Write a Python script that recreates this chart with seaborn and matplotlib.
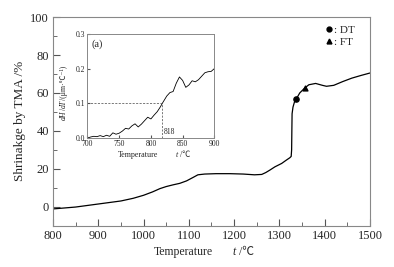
import numpy as np
import pandas as pd
import seaborn as sns
import matplotlib.pyplot as plt
from matplotlib.lines import Line2D
from matplotlib.transforms import IdentityTransform

# main TMA shrinkage curve
temp_main = [800, 850, 900, 950, 977, 1000, 1020, 1036, 1050, 1065, 1080, 1095,
             1110, 1120, 1135, 1160, 1191, 1220, 1245, 1261, 1270, 1279, 1290,
             1305, 1315, 1323, 1326, 1327, 1327.5, 1328, 1330, 1333, 1337, 1345,
             1356, 1365, 1380, 1395, 1404, 1420, 1440, 1460, 1480, 1500]
shrink_main = [-1.2, -0.2, 1.4, 3.0, 4.4, 6.0, 7.8, 9.5, 10.6, 11.5, 12.3, 13.6,
               15.5, 16.8, 17.2, 17.4, 17.4, 17.2, 16.8, 17.0, 18.0, 19.3, 21.0,
               22.8, 24.5, 25.8, 26.5, 30.0, 40.0, 49.0, 52.5, 55.0, 56.7, 60.0,
               62.6, 64.3, 65.0, 64.0, 63.5, 64.0, 66.0, 67.8, 69.2, 70.5]

# characteristic points
dt_point = (1337, 56.7)
ft_point = (1356, 62.6)

# inset: dH/dT
temp_inset = [700, 705, 710, 715, 720, 725, 730, 735, 740, 745, 750, 755, 760,
              765, 770, 775, 780, 785, 790, 795, 800, 805, 810, 815, 818, 820,
              825, 830, 835, 840, 845, 850, 855, 860, 865, 870, 875, 880, 885,
              890, 895, 900]
dhdt_inset = [0.000, 0.003, 0.005, 0.004, 0.007, 0.004, 0.008, 0.005, 0.015,
              0.011, 0.014, 0.020, 0.028, 0.026, 0.035, 0.041, 0.032, 0.040,
              0.050, 0.060, 0.055, 0.066, 0.076, 0.090, 0.100, 0.106, 0.121,
              0.131, 0.134, 0.158, 0.176, 0.166, 0.146, 0.153, 0.165, 0.162,
              0.168, 0.178, 0.188, 0.191, 0.192, 0.200]
t_mark = 818
h_mark = 0.1

main_df = pd.DataFrame({'t': temp_main, 's': shrink_main})
inset_df = pd.DataFrame({'t': temp_inset, 'd': dhdt_inset})

sns.set_style("ticks")
plt.rcParams['font.family'] = ['Liberation Serif', 'Noto Sans CJK SC', 'DejaVu Sans']

W, H = 394, 267
fig = plt.figure(figsize=(W / 100, H / 100), dpi=100)
ax = fig.add_axes([0.1345, 0.155, 0.8045, 0.781])

sns.lineplot(data=main_df, x='t', y='s', color='black', lw=0.9, ax=ax)
ax.scatter([dt_point[0]], [dt_point[1]], marker='o', s=14, color='black', zorder=5)
ax.scatter([ft_point[0]], [ft_point[1]], marker='^', s=12, color='black', zorder=5)

ax.set_xlim(800, 1500)
ax.set_ylim(-10, 100)
ax.set_xticks(range(800, 1501, 100))
ax.set_xticks(range(850, 1500, 100), minor=True)
ax.set_yticks(range(0, 101, 20))
ax.set_yticks(range(10, 100, 20), minor=True)
ax.tick_params(which='both', direction='in', labelsize=9, color='#555555', pad=3)
ax.tick_params(which='major', length=5)
ax.tick_params(which='minor', length=3)
for sp in ax.spines.values():
    sp.set_visible(True)
    sp.set_color('#888888')
    sp.set_linewidth(0.8)
ax.set_xlabel('')
ax.set_ylabel('Shrinakge by TMA /%', fontsize=9.5, labelpad=3)

handles = [Line2D([], [], ls='none', marker='o', ms=3.5, color='black'),
           Line2D([], [], ls='none', marker='^', ms=3.5, color='black')]
ax.legend(handles, [': DT', ': FT'], loc='upper right', frameon=False,
          fontsize=8, handlelength=0.6, handletextpad=0.1, labelspacing=0.2,
          borderaxespad=0.3, bbox_to_anchor=(0.975, 1.0))

# inset
ins = fig.add_axes([0.222, 0.483, 0.322, 0.390])
sns.lineplot(data=inset_df, x='t', y='d', color='black', lw=0.6, ax=ins)
ins.plot([700, t_mark], [h_mark, h_mark], color='#444444', lw=0.5, dashes=(3, 2))
ins.plot([t_mark, t_mark], [0, h_mark], color='#444444', lw=0.5, dashes=(3, 2))
ins.text(t_mark + 3, 0.012, str(t_mark), fontsize=5.5)
ins.text(0.03, 0.95, '(a)', transform=ins.transAxes, fontsize=7.5, va='top')
ins.set_xlim(700, 900)
ins.set_ylim(0, 0.3)
ins.set_xticks(range(700, 901, 50))
ins.set_yticks([0.0, 0.1, 0.2, 0.3])
ins.yaxis.set_major_formatter(plt.FormatStrFormatter('%.1f'))
ins.tick_params(direction='in', labelsize=5.5, length=2.5, pad=1.5, color='#555555')
for sp in ins.spines.values():
    sp.set_visible(True)
    sp.set_color('#888888')
    sp.set_linewidth(0.7)
ins.set_xlabel('')
ins.set_ylabel('')


def px(x, y):
    return x / W, (H - y) / H


# x labels built from pieces so the italic t and the ℃ sign both render
for (x, y), s, st, fs in [((154, 255), 'Temperature', 'normal', 8.5),
                          ((232, 255), 't', 'italic', 8.5),
                          ((236, 255), ' /\u2103', 'normal', 8.5),
                          ((118, 157), 'Temperature', 'normal', 5.8),
                          ((176, 157), 't', 'italic', 5.8),
                          ((178.5, 157), ' /\u2103', 'normal', 5.8)]:
    fig.text(*px(x, y), s, fontstyle=st, fontsize=fs, va='baseline', ha='left')

# rotated inset y label, chained from the bottom up
renderer = fig.canvas.get_renderer()
yy = H - 120
for s, st in [('dH', 'italic'), ('/', 'normal'), ('dT', 'italic'),
              ('/(\u03bcm\u00b7\u2103\u207b\u00b9)', 'normal')]:
    t = fig.text(66, yy, s, transform=IdentityTransform(), rotation=90,
                 rotation_mode='anchor', ha='left', va='baseline',
                 fontstyle=st, fontsize=5.6)
    yy += t.get_window_extent(renderer).height

fig.savefig('out.png', dpi=100)
